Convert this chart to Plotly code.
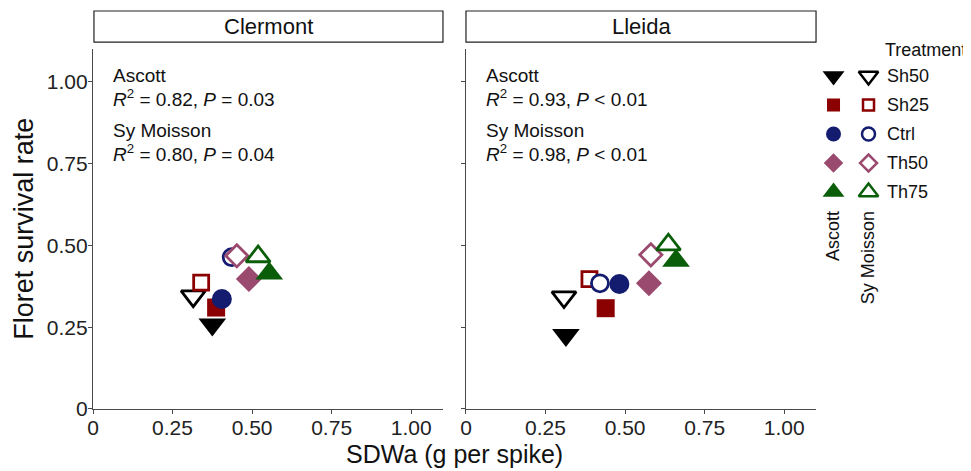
import plotly.graph_objects as go

# data
sites = ["Clermont", "Lleida"]
cultivars = ["Ascott", "Sy Moisson"]
treatments = ["Sh50", "Sh25", "Ctrl", "Th50", "Th75"]

clermont_ascott_x = [0.375, 0.387, 0.405, 0.490, 0.554]
clermont_ascott_y = [0.258, 0.310, 0.336, 0.397, 0.414]
clermont_moisson_x = [0.315, 0.340, 0.436, 0.452, 0.519]
clermont_moisson_y = [0.345, 0.386, 0.464, 0.468, 0.466]

lleida_ascott_x = [0.314, 0.439, 0.482, 0.575, 0.660]
lleida_ascott_y = [0.226, 0.308, 0.382, 0.384, 0.453]
lleida_moisson_x = [0.308, 0.388, 0.421, 0.581, 0.636]
lleida_moisson_y = [0.342, 0.397, 0.384, 0.471, 0.502]

stats_clermont = ["R2 = 0.82, P = 0.03", "R2 = 0.80, P = 0.04"]
stats_lleida = ["R2 = 0.93, P < 0.01", "R2 = 0.98, P < 0.01"]

x_ticks = [0, 0.25, 0.5, 0.75, 1.0]
x_ticktext = ["0", "0.25", "0.50", "0.75", "1.00"]
y_ticks = [0, 0.25, 0.5, 0.75, 1.0]
y_ticktext = ["0", "0.25", "0.50", "0.75", "1.00"]

colors = ["#000000", "#8b0000", "#141c70", "#9a4a6e", "#0a5e0a"]
symbols = ["triangle-down", "square", "circle", "diamond", "triangle-up"]
sizes = [24, 18, 20, 20, 24]

FONT = "Liberation Sans, Arial, sans-serif"
AXIS_COL = "#4a4a4a"
TXT = "#111111"


def fmt_stat(s: str) -> str:
    """Italic R / P and superscript 2, like the ggplot labels"""
    s = s.replace("R2", "<i>R</i><sup>2</sup>")
    return s.replace("P ", "<i>P</i> ")


fig = go.Figure()

panels = [
    ("x", "y", clermont_ascott_x, clermont_ascott_y, clermont_moisson_x, clermont_moisson_y),
    ("x2", "y2", lleida_ascott_x, lleida_ascott_y, lleida_moisson_x, lleida_moisson_y),
]

for xa, ya, ax, ay, mx, my in panels:
    for i in range(len(treatments)):
        # Ascott: solid markers
        fig.add_trace(
            go.Scatter(
                x=[ax[i]], y=[ay[i]], mode="markers", xaxis=xa, yaxis=ya,
                marker=dict(symbol=symbols[i], size=sizes[i], color=colors[i],
                            line=dict(width=0)),
                showlegend=False,
            )
        )
    for i in range(len(treatments)):
        # Sy Moisson: hollow markers
        fig.add_trace(
            go.Scatter(
                x=[mx[i]], y=[my[i]], mode="markers", xaxis=xa, yaxis=ya,
                marker=dict(symbol=symbols[i], size=sizes[i] - 3, color="white",
                            line=dict(width=2.8, color=colors[i])),
                showlegend=False,
            )
        )

# key built as a small categorical grid
for i, t in enumerate(treatments):
    fig.add_trace(
        go.Scatter(
            x=[cultivars[0]], y=[t], mode="markers", xaxis="x3", yaxis="y3",
            marker=dict(symbol=symbols[i], size=sizes[i] - 5, color=colors[i],
                        line=dict(width=0)),
            showlegend=False,
        )
    )
    fig.add_trace(
        go.Scatter(
            x=[cultivars[1]], y=[t], mode="markers", xaxis="x3", yaxis="y3",
            marker=dict(symbol=symbols[i], size=sizes[i] - 7, color="white",
                        line=dict(width=2.5, color=colors[i])),
            showlegend=False,
        )
    )

axis_common = dict(
    showline=True, linecolor=AXIS_COL, linewidth=1.2, mirror=False,
    ticks="outside", ticklen=4, tickcolor=AXIS_COL, tickwidth=1,
    showgrid=False, zeroline=False, range=[0, 1.1], ticklabelstandoff=-4,
    tickfont=dict(size=21, color="#222222", family=FONT),
)

# the page adds an 8px body margin, so the figure is drawn 8px smaller
fig.update_layout(
    width=963, height=463,
    margin=dict(l=85, r=0, t=3, b=62),
    paper_bgcolor="white", plot_bgcolor="white",
    font=dict(family=FONT, color=TXT),
    xaxis=dict(axis_common, domain=[0, 0.3986], anchor="y",
               tickvals=x_ticks, ticktext=x_ticktext),
    yaxis=dict(axis_common, domain=[0, 0.9045], anchor="x",
               tickvals=y_ticks, ticktext=y_ticktext),
    xaxis2=dict(axis_common, domain=[0.4248, 0.8235], anchor="y2",
                tickvals=x_ticks, ticktext=x_ticktext),
    yaxis2=dict(axis_common, domain=[0, 0.9045], anchor="x2",
                tickvals=y_ticks, showticklabels=False),
    xaxis3=dict(domain=[0.8235, 0.9032], anchor="y3", type="category",
                categoryorder="array", categoryarray=cultivars, range=[-0.5, 1.5],
                showline=False, showgrid=False, zeroline=False, ticks="",
                tickangle=-90, tickfont=dict(size=18, color=TXT, family=FONT)),
    yaxis3=dict(domain=[0.5088, 0.873], anchor="x3", type="category",
                categoryorder="array", categoryarray=treatments, range=[4.5, -0.5],
                side="right", showline=False, showgrid=False, zeroline=False,
                ticks="", tickfont=dict(size=18, color=TXT, family=FONT)),
)

# facet strips
strip_x = [(0.0011, 0.3986), (0.4248, 0.8235)]
for (x0, x1), site in zip(strip_x, sites):
    fig.add_shape(type="rect", xref="paper", yref="paper", x0=x0, x1=x1,
                  y0=0.922, y1=1.0, line=dict(color="#222222", width=1.2),
                  fillcolor="white")
    fig.add_annotation(xref="paper", yref="paper", x=(x0 + x1) / 2, y=0.961,
                       text=site, showarrow=False, xanchor="center", yanchor="middle",
                       font=dict(size=22, color=TXT, family=FONT))

# regression statistics per site
for xr, yr, stats in [("x", "y", stats_clermont), ("x2", "y2", stats_lleida)]:
    lines = [cultivars[0], fmt_stat(stats[0]), cultivars[1], fmt_stat(stats[1])]
    for text, yy in zip(lines, [1.018, 0.950, 0.850, 0.781]):
        fig.add_annotation(xref=xr, yref=yr, x=0.057, y=yy, text=text,
                           showarrow=False, xanchor="left", yanchor="middle",
                           font=dict(size=19, color=TXT, family=FONT))

# axis titles
fig.add_annotation(xref="paper", yref="paper", x=0.4117, y=-0.112,
                   text="SDWa (g per spike)", showarrow=False,
                   xanchor="center", yanchor="middle",
                   font=dict(size=25, color=TXT, family=FONT))
fig.add_annotation(xref="paper", yref="paper", x=-0.079, y=0.452,
                   text="Floret survival rate", showarrow=False, textangle=-90,
                   xanchor="center", yanchor="middle",
                   font=dict(size=27, color=TXT, family=FONT))
fig.add_annotation(xref="paper", yref="paper", x=0.9487, y=0.902,
                   text="Treatment", showarrow=False,
                   xanchor="center", yanchor="middle",
                   font=dict(size=18, color=TXT, family=FONT))

fig.write_html("out.html")
